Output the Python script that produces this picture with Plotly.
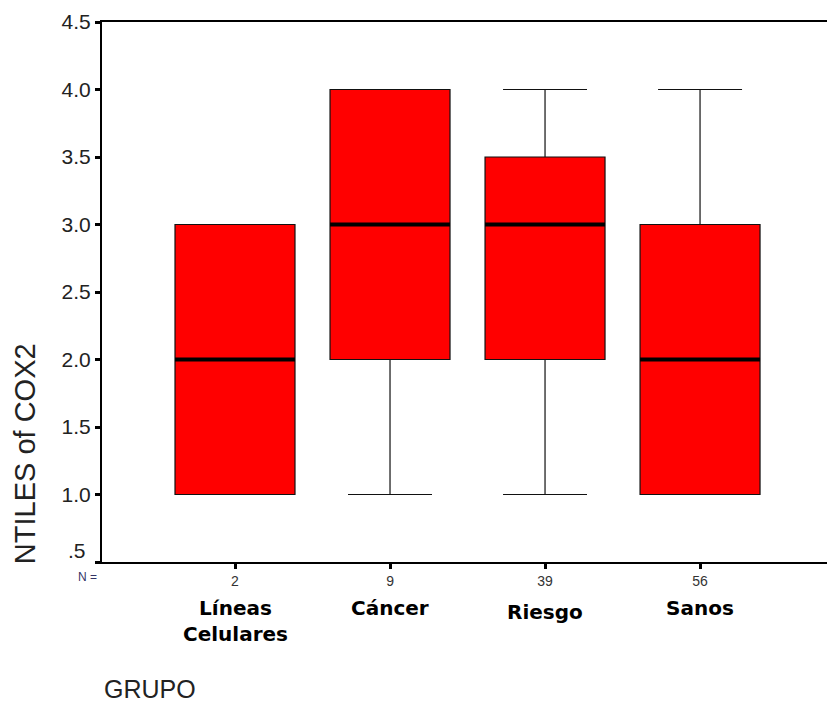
import plotly.graph_objects as go

# Group names, sample sizes and box statistics for NTILES of COX2
groups = ["Líneas<br>Celulares", "Cáncer", "Riesgo", "Sanos"]
n_counts = ["2", "9", "39", "56"]
lower_fence = [1.0, 1.0, 1.0, 1.0]
q1 = [1.0, 2.0, 2.0, 1.0]
median = [2.0, 3.0, 3.0, 2.0]
q3 = [3.0, 4.0, 3.5, 3.0]
upper_fence = [3.0, 4.0, 4.0, 4.0]

y_ticks = [0.5, 1.0, 1.5, 2.0, 2.5, 3.0, 3.5, 4.0, 4.5]
y_tick_text = ["", "1.0", "1.5", "2.0", "2.5", "3.0", "3.5", "4.0", "4.5"]

# vertical offset of each group label below the axis (paper units)
label_y = [-0.11, -0.085, -0.092, -0.085]

BOX_W = 0.774
NARROW = "Liberation Sans Narrow, Arial Narrow, Liberation Sans, Arial, sans-serif"
HEAVY = "DejaVu Sans, Verdana, sans-serif"

xs = list(range(len(groups)))

fig = go.Figure()

fig.add_trace(go.Box(
    x=xs,
    q1=q1,
    median=median,
    q3=q3,
    lowerfence=lower_fence,
    upperfence=upper_fence,
    width=BOX_W,
    whiskerwidth=0.7,
    fillcolor="#FF0000",
    line=dict(color="#111111", width=1.2),
    boxpoints=False,
    hoverinfo="skip",
    showlegend=False,
))

# thick median bars drawn over each box
mx, my = [], []
for i, m in zip(xs, median):
    mx += [i - BOX_W / 2, i + BOX_W / 2, None]
    my += [m, m, None]
fig.add_trace(go.Scatter(
    x=mx, y=my, mode="lines",
    line=dict(color="#000000", width=4),
    hoverinfo="skip", showlegend=False,
))

annotations = []
for i, (g, ly) in enumerate(zip(groups, label_y)):
    annotations.append(dict(
        x=i, xref="x", y=ly, yref="paper",
        text="<b>" + g + "</b>", showarrow=False,
        font=dict(family=HEAVY, size=20, color="#000000"),
        xanchor="center", yanchor="middle",
    ))

annotations += [
    # lowest y tick label, lifted slightly above its tick
    dict(x=-0.02, xref="paper", y=0.585, yref="y", text=".5",
         showarrow=False, xanchor="right", yanchor="middle",
         font=dict(family=NARROW, size=21, color="#222222")),
    dict(x=-0.004, xref="paper", y=-0.028, yref="paper", text="N =",
         showarrow=False, xanchor="right", yanchor="middle",
         font=dict(family=NARROW, size=12, color="#333366")),
    dict(x=0.0, xref="paper", y=-0.235, yref="paper", text="GRUPO",
         showarrow=False, xanchor="left", yanchor="middle",
         font=dict(family=NARROW, size=25, color="#222222")),
    dict(x=-0.106, xref="paper", y=0.2, yref="paper", text="NTILES of COX2",
         showarrow=False, xanchor="center", yanchor="middle", textangle=-90,
         font=dict(family=NARROW, size=29, color="#222222")),
]

fig.update_layout(
    width=827, height=704,
    margin=dict(l=102, r=0, t=22, b=142),
    paper_bgcolor="white", plot_bgcolor="white",
    annotations=annotations,
    xaxis=dict(
        range=[-0.858, 3.819],
        tickmode="array", tickvals=xs, ticktext=n_counts,
        ticks="outside", ticklen=5, tickwidth=3, tickcolor="#000000",
        tickfont=dict(family=NARROW, size=14, color="#333333"),
        showgrid=False, zeroline=False,
        showline=True, linecolor="#000000", linewidth=2, mirror=True,
    ),
    yaxis=dict(
        range=[0.5, 4.5],
        tickmode="array", tickvals=y_ticks, ticktext=y_tick_text,
        ticks="outside", ticklen=5, tickwidth=3, tickcolor="#000000",
        tickfont=dict(family=NARROW, size=21, color="#222222"),
        showgrid=False, zeroline=False,
        showline=True, linecolor="#000000", linewidth=2,
    ),
)

fig.write_html("out.html")
